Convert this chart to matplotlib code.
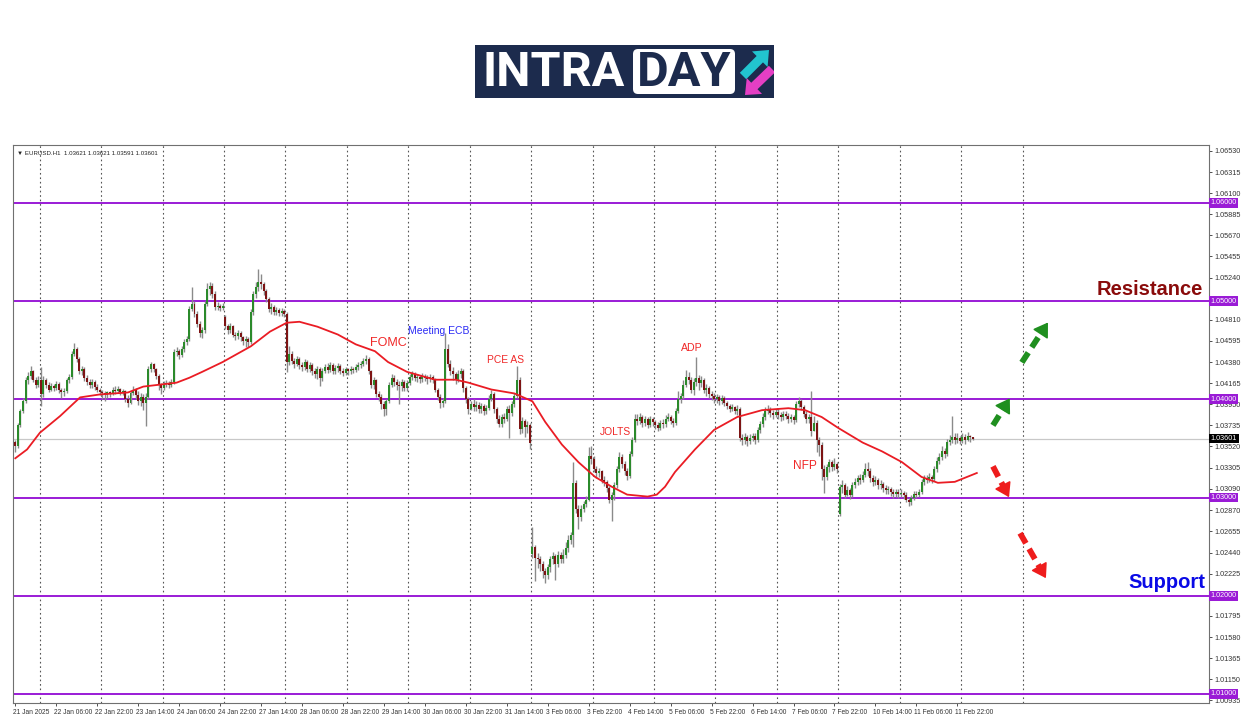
import numpy as np
import matplotlib
matplotlib.use('Agg')
import matplotlib.pyplot as plt
import matplotlib.transforms as mtransforms
from matplotlib.patches import FancyArrow, FancyBboxPatch, Rectangle

plt.rcParams['font.family'] = ['Liberation Sans', 'DejaVu Sans']

# ---------------------------------------------------------------------------
# EURUSD H1 candles, 21 Jan 14:00 -> 12 Feb 04:00, prices in pips over 1.0000
# one line per trading day
# ---------------------------------------------------------------------------
first_open = 357
gap_opens = {82: 484, 202: 243, 322: 283}   # monday opens after weekend gaps

close_pips = [
    352, 374, 388, 398, 420, 424, 429, 420, 415, 420,
    405, 420, 415, 410, 414, 412, 416, 410, 407, 408, 420, 423, 446, 451, 441, 429, 431, 422, 418, 415, 418, 413, 410, 407,
    406, 404, 407, 405, 410, 408, 411, 407, 408, 400, 396, 406, 410, 404, 398, 402, 396, 402, 431, 436, 431, 424, 415, 412,
    416, 417, 415, 418, 448, 449, 445, 451, 458, 461, 492, 497, 487, 477, 468, 471, 497, 512, 515, 507, 494, 495, 493, 495,
    475, 471, 475, 466, 464, 468, 463, 459, 461, 458, 489, 507, 514, 519, 517, 510, 502, 492, 494, 489, 491, 488, 490, 487,
    438, 446, 439, 436, 441, 435, 433, 438, 431, 435, 429, 426, 431, 422, 429, 433, 430, 435, 429, 432, 434, 429, 427, 431,
    429, 431, 430, 433, 435, 436, 439, 441, 429, 415, 420, 405, 402, 395, 390, 398, 415, 422, 418, 415, 414, 418, 412, 417,
    423, 426, 422, 423, 421, 424, 422, 421, 423, 420, 410, 402, 396, 398, 451, 436, 429, 426, 420, 426, 429, 412, 400, 390,
    395, 392, 394, 390, 393, 388, 391, 400, 405, 390, 380, 375, 382, 380, 390, 386, 395, 403, 420, 370, 378, 372, 374, 356,
    250, 238, 237, 232, 225, 221, 229, 237, 240, 232, 242, 237, 242, 249, 257, 262, 315, 288, 280, 288, 293, 298, 342, 339,
    329, 325, 327, 318, 316, 310, 298, 303, 313, 329, 341, 334, 327, 322, 344, 359, 380, 378, 382, 376, 380, 374, 380, 377,
    374, 371, 376, 375, 380, 382, 378, 376, 388, 400, 403, 415, 423, 420, 410, 418, 422, 417, 420, 410, 412, 405, 403, 400,
    402, 398, 401, 396, 393, 390, 392, 388, 390, 361, 359, 362, 358, 361, 363, 359, 369, 375, 382, 388, 390, 386, 384, 387,
    384, 382, 385, 383, 380, 382, 379, 395, 398, 392, 385, 380, 382, 368, 376, 359, 354, 329, 321, 331, 336, 331, 334, 329,
    311, 313, 303, 308, 303, 313, 316, 320, 318, 323, 329, 327, 320, 316, 318, 313, 314, 310, 308, 309, 306, 304, 306, 304,
    305, 303, 298, 295, 300, 304, 303, 306, 316, 320, 318, 321, 319, 329, 337, 341, 347, 344, 357, 359, 362, 359, 361, 358,
    362, 359, 363, 362.1, 360.1,
]

high_pips = [
    359, 376, 390, 401, 423, 428, 434, 430, 423, 424,
    433, 424, 422, 418, 417, 416, 419, 418, 412, 412, 422, 426, 449, 457, 453, 443, 434, 433, 425, 421, 421, 420, 416, 412,
    410, 408, 409, 409, 413, 414, 414, 412, 411, 410, 404, 409, 414, 412, 408, 406, 405, 406, 434, 438, 437, 432, 426, 417,
    419, 420, 419, 421, 451, 453, 451, 454, 461, 464, 495, 514, 500, 490, 480, 474, 500, 518, 520, 518, 510, 499, 497, 498,
    486, 477, 478, 476, 469, 471, 470, 465, 464, 463, 492, 510, 520, 533, 528, 520, 512, 504, 498, 496, 494, 493, 493, 492,
    489, 454, 449, 442, 444, 443, 438, 441, 440, 438, 437, 432, 434, 433, 432, 436, 437, 438, 437, 435, 437, 436, 432, 433,
    432, 434, 433, 436, 438, 439, 442, 445, 443, 430, 423, 421, 408, 405, 398, 400, 418, 426, 425, 421, 419, 421, 420, 420,
    426, 429, 428, 426, 425, 427, 426, 425, 426, 425, 422, 412, 405, 401, 468, 456, 440, 433, 428, 430, 432, 431, 414, 402,
    398, 400, 398, 397, 396, 395, 394, 404, 410, 407, 392, 384, 385, 386, 393, 394, 398, 406, 434, 423, 382, 380, 378, 376,
    270, 252, 244, 240, 235, 228, 232, 240, 245, 243, 246, 245, 248, 255, 262, 265, 336, 318, 292, 292, 296, 302, 351, 352,
    342, 332, 330, 328, 322, 318, 312, 306, 316, 332, 346, 344, 337, 330, 347, 362, 385, 385, 386, 384, 383, 382, 383, 382,
    379, 377, 379, 380, 384, 386, 384, 381, 391, 408, 406, 420, 430, 428, 423, 422, 443, 425, 424, 422, 416, 414, 408, 406,
    405, 404, 404, 403, 398, 395, 395, 393, 394, 392, 365, 366, 364, 365, 366, 366, 372, 378, 386, 392, 394, 392, 389, 390,
    391, 387, 388, 388, 386, 385, 384, 398, 402, 400, 394, 388, 385, 408, 383, 379, 362, 357, 333, 334, 339, 338, 340, 336,
    314, 318, 315, 312, 310, 316, 320, 323, 324, 327, 335, 336, 330, 323, 322, 320, 318, 316, 313, 312, 311, 309, 309, 309,
    309, 307, 306, 300, 303, 307, 307, 309, 319, 323, 323, 325, 323, 332, 341, 345, 352, 350, 360, 364, 383, 366, 366, 363,
    366, 365, 367, 364, 362.1,
]

low_pips = [
    346, 350, 372, 386, 396, 416, 421, 418, 412, 413,
    393, 402, 412, 407, 408, 409, 410, 406, 401, 403, 406, 417, 421, 444, 438, 426, 425, 419, 415, 412, 412, 410, 407, 404,
    400, 398, 401, 402, 404, 405, 406, 404, 404, 397, 392, 395, 404, 400, 394, 393, 389, 373, 400, 428, 428, 421, 410, 405,
    410, 413, 412, 413, 416, 444, 441, 443, 448, 455, 459, 490, 484, 474, 463, 462, 468, 495, 506, 503, 491, 491, 490, 491,
    472, 467, 468, 463, 460, 461, 459, 455, 453, 453, 456, 486, 503, 510, 512, 506, 499, 489, 487, 486, 486, 485, 485, 484,
    428, 435, 436, 432, 434, 431, 429, 430, 428, 428, 425, 422, 421, 414, 419, 427, 427, 428, 426, 426, 428, 426, 424, 425,
    425, 426, 427, 428, 430, 432, 434, 436, 426, 412, 411, 402, 398, 390, 383, 384, 396, 413, 414, 410, 395, 409, 408, 409,
    415, 420, 419, 418, 417, 418, 419, 416, 418, 417, 407, 399, 391, 392, 396, 433, 425, 420, 416, 418, 422, 407, 396, 385,
    389, 388, 388, 386, 386, 384, 385, 389, 398, 386, 376, 372, 372, 376, 378, 361, 383, 392, 401, 365, 366, 362, 366, 349,
    238, 215, 228, 225, 218, 213, 217, 224, 232, 216, 229, 233, 233, 238, 245, 253, 250, 284, 268, 276, 285, 290, 296, 334,
    326, 320, 321, 315, 312, 306, 294, 276, 298, 310, 326, 330, 323, 318, 320, 342, 357, 374, 375, 372, 373, 371, 372, 373,
    370, 368, 369, 371, 372, 378, 375, 372, 374, 386, 396, 400, 413, 416, 406, 404, 414, 410, 413, 406, 403, 401, 399, 396,
    396, 394, 395, 393, 390, 387, 388, 385, 384, 358, 354, 355, 352, 355, 358, 355, 357, 366, 372, 379, 385, 382, 380, 382,
    380, 378, 379, 380, 376, 377, 375, 377, 392, 389, 382, 376, 376, 363, 368, 346, 342, 318, 305, 318, 326, 327, 328, 325,
    281, 305, 300, 302, 299, 301, 310, 313, 314, 316, 321, 322, 316, 312, 313, 309, 309, 306, 304, 304, 302, 300, 301, 300,
    301, 299, 295, 291, 292, 298, 300, 301, 304, 313, 315, 316, 315, 317, 326, 334, 338, 340, 342, 354, 356, 355, 356, 355,
    356, 355, 358, 357, 359.1,
]

# red moving average (bar index, pips over 1.0000)
ma_bars = [0, 4.6, 9.6, 17.5, 25.3, 33, 44, 50, 56.5, 63, 68, 73, 81, 92, 99.5, 106, 111, 118, 126, 133,
           140.5, 145.6, 153, 164, 172, 177, 186, 195, 202, 207, 213.5, 220, 226.5, 233, 239, 247, 250.6,
           253.8, 257.7, 265.5, 273, 282, 291.7, 302, 308.5, 315, 321.4, 331, 338.6, 346.4, 354, 360.4, 367, 375.6]
ma_pips = [340, 349, 366, 383, 402, 405, 407, 413, 415, 417, 422, 428, 438, 454, 469, 478, 479, 474, 466, 456,
           449, 438, 428, 420, 420, 417, 410, 406, 398, 377, 354, 336, 321, 311, 303, 301, 303,
           311, 326, 349, 369, 382, 389, 391, 389, 382, 371, 356, 347, 336, 321, 315, 316, 325]

levels = [1.06, 1.05, 1.04, 1.03, 1.02, 1.01]
last_price = 1.03601
ytick_vals = [1.06530, 1.06315, 1.06100, 1.05885, 1.05670, 1.05455, 1.05240, 1.04810, 1.04595, 1.04380,
              1.04165, 1.03950, 1.03735, 1.03520, 1.03305, 1.03090, 1.02870, 1.02655, 1.02440, 1.02225,
              1.01795, 1.01580, 1.01365, 1.01150, 1.00935]
time_labels = ['21 Jan 2025', '22 Jan 06:00', '22 Jan 22:00', '23 Jan 14:00', '24 Jan 06:00', '24 Jan 22:00',
               '27 Jan 14:00', '28 Jan 06:00', '28 Jan 22:00', '29 Jan 14:00', '30 Jan 06:00', '30 Jan 22:00',
               '31 Jan 14:00', '3 Feb 06:00', '3 Feb 22:00', '4 Feb 14:00', '5 Feb 06:00', '5 Feb 22:00',
               '6 Feb 14:00', '7 Feb 06:00', '7 Feb 22:00', '10 Feb 14:00', '11 Feb 06:00', '11 Feb 22:00']
bars_per_label = 16
day_starts = list(range(10, 395, 24))   # first H1 bar of each trading day

events = ['FOMC', 'Meeting ECB', 'PCE AS', 'ADP', 'JOLTS', 'NFP']
event_bars = [145.6, 165.5, 191.3, 264.3, 234.6, 308.5]
event_prices = [1.0457, 1.0470, 1.0440, 1.0452, 1.03664, 1.03318]
event_colors = ['#f02828', '#2a2af5', '#f02828', '#f02828', '#f02828', '#f02828']
event_sizes = [9, 7.5, 7.4, 7.6, 7.4, 8.6]

# ---------------------------------------------------------------------------
n = len(close_pips)
assert n == len(high_pips) == len(low_pips) == 375, (len(close_pips), len(high_pips), len(low_pips))

c = 1 + np.array(close_pips, dtype=float) / 10000
o = np.empty(n)
o[0] = 1 + first_open / 10000
o[1:] = c[:-1]
for b, v in gap_opens.items():
    o[b] = 1 + v / 10000
hi = np.maximum.reduce([1 + np.array(high_pips, dtype=float) / 10000, o, c])
lo = np.minimum.reduce([1 + np.array(low_pips, dtype=float) / 10000, o, c])
idx = np.arange(n)

fig = plt.figure(figsize=(12.5, 7.16), dpi=100)
fig.patch.set_facecolor('white')
ax = fig.add_axes([13 / 1250, 13 / 716, 1196 / 1250, 558 / 716])
ax.set_xlim(-0.9, 466.3)
ax.set_ylim(1.00908, 1.0659)

# day separators
for d in day_starts:
    ax.axvline(d - 0.5, color='#555555', lw=0.8, ls=(0, (1.5, 2.5)), zorder=1)

# support / resistance levels and last price line
for lv in levels:
    ax.axhline(lv, color='#9a1bd6', lw=1.4, zorder=2)
ax.axhline(last_price, color='#c8c8c8', lw=0.9, zorder=1)

# candles
up = c >= o
ax.vlines(idx, lo, hi, color='#8a8a8a', lw=1.0, zorder=3)
ax.bar(idx, np.maximum(np.abs(c - o), 0.00005), bottom=np.minimum(o, c), width=0.78,
       color=np.where(up, '#2b8a2b', '#7d1414'), lw=0, zorder=4)

# moving average
ax.plot(ma_bars, 1 + np.array(ma_pips) / 10000, color='#ea1c24', lw=1.3, zorder=5)

# event labels
for t, xb, yp, col, fs in zip(events, event_bars, event_prices, event_colors, event_sizes):
    ax.text(xb, yp, t, color=col, fontsize=fs, ha='center', va='center', zorder=6)

trans = mtransforms.blended_transform_factory(ax.transAxes, ax.transData)
ax.text(0.995, 1.05119, 'Resistance', transform=trans, ha='right', va='center',
        fontsize=14.5, fontweight='bold', color='#8a0b0b')
ax.text(0.9965, 1.02138, 'Support', transform=trans, ha='right', va='center',
        fontsize=14.5, fontweight='bold', color='#0a0ae6')

# dashed scenario arrows (bar index, price)
arrows = [((393.2, 1.04376), (403.4, 1.04783), '#1f8f1f'),
          ((381.9, 1.03735), (388.5, 1.04010), '#1f8f1f'),
          ((381.9, 1.03318), (388.2, 1.03003), '#ee1c1c'),
          ((392.5, 1.02637), (402.6, 1.02179), '#ee1c1c')]
for (x0, y0), (x1, y1), col in arrows:
    xm = x0 + (x1 - x0) * 0.74
    ym = y0 + (y1 - y0) * 0.74
    ax.plot([x0, xm], [y0, ym], color=col, lw=4.2, ls=(0, (2.0, 1.1)), solid_capstyle='butt',
            dash_capstyle='butt', zorder=6)
    ax.annotate('', xy=(x1, y1), xytext=(xm, ym),
                arrowprops=dict(arrowstyle='-|>,head_length=0.65,head_width=0.42', color=col, lw=1.2,
                                shrinkA=0, shrinkB=0, mutation_scale=13), zorder=6)

# header line
ax.text(0.003, 0.99, '\u25bc EURUSD.H1  1.03621 1.03621 1.03591 1.03601', transform=ax.transAxes,
        ha='left', va='top', fontsize=4.4, color='#222222')

# axes styling
for sp in ax.spines.values():
    sp.set_color('#707070')
    sp.set_linewidth(0.8)
ax.yaxis.tick_right()
ax.set_yticks(ytick_vals)
ax.set_yticklabels(['%.5f' % v for v in ytick_vals])
ax.tick_params(axis='y', labelsize=5.2, length=2.5, width=0.6, pad=1.5, colors='#333333')
ax.set_xticks(np.arange(len(time_labels)) * bars_per_label)
ax.set_xticklabels(time_labels)
ax.tick_params(axis='x', labelsize=4.8, length=2.5, width=0.6, pad=1.5, colors='#333333')
for lab in ax.get_xticklabels():
    lab.set_horizontalalignment('left')
    lab.set_transform(lab.get_transform() + mtransforms.ScaledTranslation(-2 / 100, 0, fig.dpi_scale_trans))

# price tags on the right scale
for lv in levels:
    ax.text(1.0015, lv, '%.5f' % lv, transform=trans, ha='left', va='center', fontsize=5.2, color='white',
            bbox=dict(boxstyle='square,pad=0.2', fc='#9a1bd6', ec='none'), zorder=7, clip_on=False)
ax.text(1.0015, last_price, '%.5f' % last_price, transform=trans, ha='left', va='center', fontsize=5.2,
        color='white', bbox=dict(boxstyle='square,pad=0.2', fc='black', ec='none'), zorder=7, clip_on=False)

# logo
lg = fig.add_axes([475 / 1250, 1 - 98 / 716, 299 / 1250, 53 / 716])
lg.set_xlim(0, 299)
lg.set_ylim(0, 53)
lg.axis('off')
navy = '#1c2b4d'
lg.add_patch(Rectangle((0, 0), 299, 53, fc=navy, ec='none'))
lg.text(8, 25.5, 'INTRA', color='white', fontsize=35, fontweight='bold', family=['Roboto', 'DejaVu Sans'],
        ha='left', va='center')
lg.add_patch(FancyBboxPatch((158, 4), 102, 45, boxstyle='round,pad=0,rounding_size=5', fc='white', ec='none'))
lg.text(209, 25.5, 'DAY', color=navy, fontsize=35, fontweight='bold', family=['Roboto', 'DejaVu Sans'],
        ha='center', va='center')
lg.add_patch(FancyArrow(268, 22, 26, 26, width=9, head_width=22, head_length=13,
                        length_includes_head=True, fc='#22c4cf', ec='none'))
lg.add_patch(FancyArrow(297, 29, -27, -26, width=9, head_width=22, head_length=13,
                        length_includes_head=True, fc='#e43fc4', ec='none'))

fig.savefig('out.png', dpi=100, facecolor='white')
